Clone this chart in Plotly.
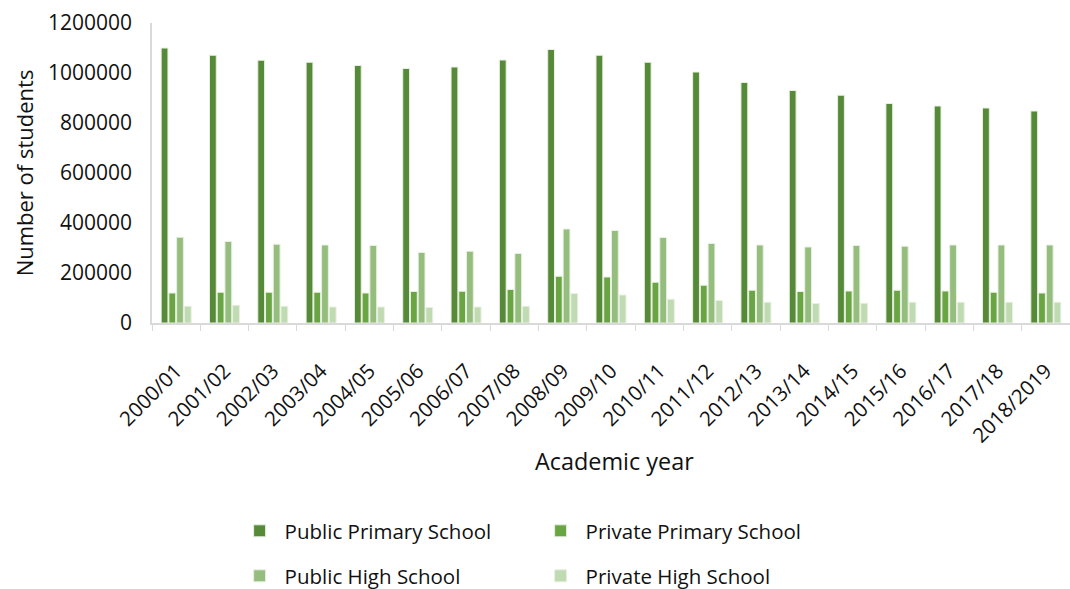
import plotly.graph_objects as go

years = ["2000/01", "2001/02", "2002/03", "2003/04", "2004/05", "2005/06", "2006/07",
         "2007/08", "2008/09", "2009/10", "2010/11", "2011/12", "2012/13", "2013/14",
         "2014/15", "2015/16", "2016/17", "2017/18", "2018/2019"]

public_primary = [1100000, 1071000, 1051000, 1043000, 1030000, 1018000, 1024000,
                  1052000, 1094000, 1071000, 1043000, 1004000, 962000, 930000,
                  911000, 878000, 868000, 860000, 848000]
private_primary = [120000, 123000, 123000, 123000, 120000, 126000, 127000,
                   134000, 187000, 184000, 163000, 151000, 131000, 126000,
                   128000, 131000, 128000, 123000, 120000]
public_high = [343000, 326000, 315000, 312000, 310000, 282000, 287000,
               278000, 376000, 370000, 342000, 318000, 312000, 304000,
               310000, 307000, 312000, 312000, 312000]
private_high = [67000, 71000, 67000, 64000, 64000, 62000, 64000,
                67000, 118000, 112000, 95000, 90000, 83000, 78000,
                79000, 83000, 83000, 83000, 83000]

series = [
    ("Public Primary School", public_primary, "#578A38", "legend"),
    ("Private Primary School", private_primary, "#6AA543", "legend"),
    ("Public High School", public_high, "#95BE7E", "legend2"),
    ("Private High School", private_high, "#C0DAB2", "legend2"),
]

FONT = "Open Sans"
fig = go.Figure()
for name, vals, color, lg in series:
    fig.add_trace(go.Bar(
        x=years, y=vals, name=name, legend=lg,
        marker=dict(color=color, line=dict(color="#E8F0E2", width=1)),
    ))

fig.update_layout(
    width=1070, height=589,
    margin=dict(l=152, r=0, t=23, b=266, autoexpand=False),
    paper_bgcolor="white", plot_bgcolor="white",
    barmode="group", bargap=0.36, bargroupgap=0.12,
    font=dict(family=FONT, size=18, color="#111111"),
    xaxis=dict(
        tickangle=-45, tickson="boundaries", ticks="outside", ticklen=6,
        tickcolor="#D9D9D9", showline=True, linecolor="#D9D9D9", linewidth=1.5,
        tickfont=dict(size=20.5), ticklabelstandoff=26, automargin=False,
    ),
    yaxis=dict(
        title=dict(text="Number of students", font=dict(size=22), standoff=8),
        range=[0, 1200000], dtick=200000, tickformat="d",
        showgrid=False, showline=True, linecolor="#D9D9D9", linewidth=1.5,
        ticks="", zeroline=False, tickfont=dict(size=21), ticklabelstandoff=14,
        automargin=False,
    ),
    annotations=[dict(
        text="Academic year", xref="paper", yref="paper",
        x=(614 - 152) / 918, y=(323 - 461) / 300, xanchor="center", yanchor="middle",
        showarrow=False, font=dict(size=23.4),
    )],
    legend=dict(orientation="h", x=0.09, xanchor="left", y=(323 - 531) / 300,
                yanchor="middle", entrywidth=246, font=dict(size=20.5), itemwidth=40),
    legend2=dict(orientation="h", x=0.09, xanchor="left", y=(323 - 576) / 300,
                 yanchor="middle", entrywidth=246, font=dict(size=20.5), itemwidth=40),
)

fig.write_html("out.html")
